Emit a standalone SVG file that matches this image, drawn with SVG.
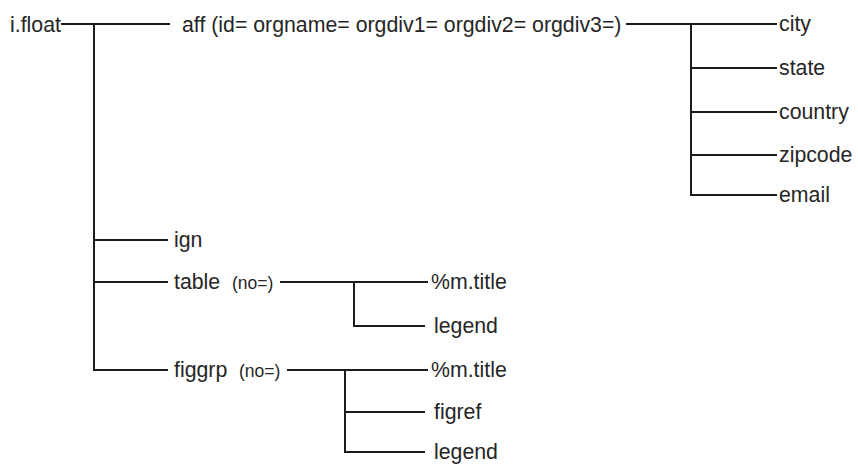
<svg xmlns="http://www.w3.org/2000/svg" width="858" height="465" viewBox="0 0 858 465">
<style>
text{font-family:"Liberation Sans",Arial,sans-serif;font-size:21.3px;fill:#262626}
.s{font-size:17.5px}
.c{stroke:#1c1c1c;stroke-width:2;fill:none}
</style>
<rect width="858" height="465" fill="#fff"/>
<g id="connectors" class="c">
<path d="M61 24H170M94 24V371M94 240H168M94 282H168M93 370H168"/>
<path d="M626 24H777M691 24V196M690 68H777M690 112H777M690 155H777M690 195H777"/>
<path d="M280 282H428M354 282V327M353 326H425"/>
<path d="M287 370H428M345 370V453M344 412H425M344 452H425"/>
</g>
<g id="n-ifloat"><text x="10" y="32">i.float</text></g>
<g id="n-aff"><text x="182" y="32">aff (id= orgname= orgdiv1= orgdiv2= orgdiv3=)</text></g>
<g id="n-city"><text x="779" y="31">city</text></g>
<g id="n-state"><text x="779" y="75">state</text></g>
<g id="n-country"><text x="779" y="119">country</text></g>
<g id="n-zipcode"><text x="779" y="162">zipcode</text></g>
<g id="n-email"><text x="779" y="202">email</text></g>
<g id="n-ign"><text x="174" y="247">ign</text></g>
<g id="n-table"><text x="174" y="289">table <tspan class="s" x="232">(no=)</tspan></text></g>
<g id="n-table-title"><text x="431" y="289">%m.title</text></g>
<g id="n-table-legend"><text x="434" y="333">legend</text></g>
<g id="n-figgrp"><text x="174" y="377">figgrp <tspan class="s" x="239">(no=)</tspan></text></g>
<g id="n-fig-title"><text x="431" y="377">%m.title</text></g>
<g id="n-figref"><text x="434" y="419">figref</text></g>
<g id="n-fig-legend"><text x="434" y="459">legend</text></g>
</svg>
